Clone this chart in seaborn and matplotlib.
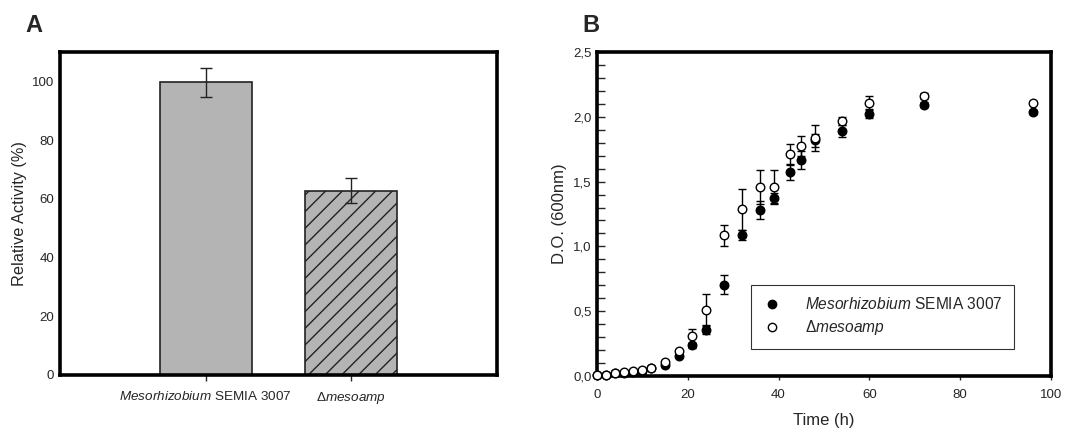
import numpy as np
import pandas as pd
import seaborn as sns
import matplotlib.pyplot as plt
from matplotlib.ticker import MultipleLocator, FuncFormatter
from matplotlib.lines import Line2D

sns.set_style('white')
plt.rcParams['font.family'] = ['Liberation Sans', 'DejaVu Sans']
plt.rcParams['mathtext.fontset'] = 'custom'
plt.rcParams['mathtext.rm'] = 'Liberation Sans'
plt.rcParams['mathtext.it'] = 'Liberation Sans:italic'
plt.rcParams['hatch.linewidth'] = 1.0

# Panel A - relative activity
strains = [r'$\mathit{Mesorhizobium}$ SEMIA 3007', r'$\Delta\mathit{mesoamp}$']
activity = [99.7, 62.8]
activity_err = [5.0, 4.2]

# Panel B - growth curves
time_h = [0, 2, 4, 6, 8, 10, 12, 15, 18, 21, 24, 28, 32, 36, 39, 42.5, 45, 48, 54, 60, 72, 96]
od_wt = [0.01, 0.01, 0.02, 0.02, 0.03, 0.04, 0.06, 0.087, 0.154, 0.237, 0.355, 0.705,
         1.09, 1.28, 1.373, 1.574, 1.664, 1.818, 1.888, 2.024, 2.094, 2.037]
od_wt_err = [0, 0, 0, 0, 0, 0, 0.005, 0.01, 0.01, 0.02, 0.03, 0.075,
             0.04, 0.07, 0.04, 0.065, 0.07, 0.05, 0.045, 0.03, 0.02, 0.015]
od_mut = [0.01, 0.01, 0.025, 0.03, 0.035, 0.05, 0.06, 0.108, 0.19, 0.31, 0.512, 1.085,
          1.286, 1.458, 1.458, 1.71, 1.775, 1.836, 1.965, 2.107, 2.16, 2.107]
od_mut_err = [0, 0, 0, 0, 0, 0, 0.005, 0.01, 0.01, 0.055, 0.12, 0.08,
              0.16, 0.13, 0.13, 0.08, 0.075, 0.1, 0.03, 0.05, 0.025, 0.01]

fig = plt.figure(figsize=(10.69, 4.33), dpi=100)
axA = fig.add_axes([0.056, 0.134, 0.409, 0.746])
axB = fig.add_axes([0.5585, 0.1316, 0.4245, 0.7484])

# ---- A ----
dfA = pd.DataFrame({'strain': strains, 'activity': activity})
sns.barplot(data=dfA, x='strain', y='activity', ax=axA, color='#b4b4b4',
            width=0.63, edgecolor='#222222', linewidth=1.2, saturation=1)
axA.patches[1].set_hatch('//')
axA.errorbar(range(len(strains)), activity, yerr=activity_err, fmt='none',
             ecolor='#222222', elinewidth=1.0, capsize=4.3, capthick=1.0)
axA.set_xlim(-1, 2)
axA.set_ylim(0, 110)
axA.yaxis.set_major_locator(MultipleLocator(20))
axA.set_xlabel('')
axA.set_ylabel('Relative Activity (%)', fontsize=11.7)
axA.tick_params(axis='y', direction='in', length=6, width=1, labelsize=9.5, pad=4)
axA.tick_params(axis='x', direction='out', length=4, width=1, labelsize=9.7, pad=7,
                bottom=True)

# ---- B ----
sns.scatterplot(x=time_h, y=od_wt, ax=axB, color='black', edgecolor='black',
                s=38, linewidth=1, zorder=4, clip_on=False)
sns.scatterplot(x=time_h, y=od_mut, ax=axB, color='white', edgecolor='black',
                s=38, linewidth=1, zorder=5, clip_on=False)
axB.errorbar(time_h, od_wt, yerr=od_wt_err, fmt='none', ecolor='black',
             elinewidth=1, capsize=2.6, capthick=1, zorder=3)
axB.errorbar(time_h, od_mut, yerr=od_mut_err, fmt='none', ecolor='black',
             elinewidth=1, capsize=2.6, capthick=1, zorder=3)
axB.set_xlim(0, 100)
axB.set_ylim(0, 2.5)
axB.xaxis.set_major_locator(MultipleLocator(20))
axB.yaxis.set_major_locator(MultipleLocator(0.5))
axB.yaxis.set_minor_locator(MultipleLocator(0.1))
axB.yaxis.set_major_formatter(FuncFormatter(lambda v, p: f'{v:.1f}'.replace('.', ',')))
axB.set_xlabel('Time (h)', fontsize=12, labelpad=9)
axB.set_ylabel('D.O. (600nm)', fontsize=12)
axB.tick_params(axis='y', which='both', direction='in', left=True, width=1,
                labelsize=9.5, pad=4)
axB.tick_params(axis='y', which='major', length=6)
axB.tick_params(axis='y', which='minor', length=6)
axB.tick_params(axis='x', direction='out', length=3, width=1, labelsize=9.5, pad=6,
                bottom=True)

handles = [Line2D([], [], ls='none', marker='o', ms=6, mfc='black', mec='black'),
           Line2D([], [], ls='none', marker='o', ms=6, mfc='white', mec='black')]
leg = axB.legend(handles, [r'$\mathit{Mesorhizobium}$ SEMIA 3007', r'$\Delta\mathit{mesoamp}$'],
                 loc='lower left', bbox_to_anchor=(0.34, 0.083, 0.578, 0.192),
                 mode='expand', fontsize=11.2, frameon=True, fancybox=False,
                 edgecolor='black', borderpad=0.75, handlelength=1.2,
                 handletextpad=1.5, labelspacing=0.4, borderaxespad=0)
leg.get_frame().set_linewidth(0.8)

for ax in (axA, axB):
    for s in ax.spines.values():
        s.set_visible(True)
        s.set_color('black')
        s.set_linewidth(2.6)

fig.text(0.024, 0.925, 'A', fontsize=17, fontweight='bold')
fig.text(0.545, 0.925, 'B', fontsize=17, fontweight='bold')

fig.savefig('out.png', dpi=100)
